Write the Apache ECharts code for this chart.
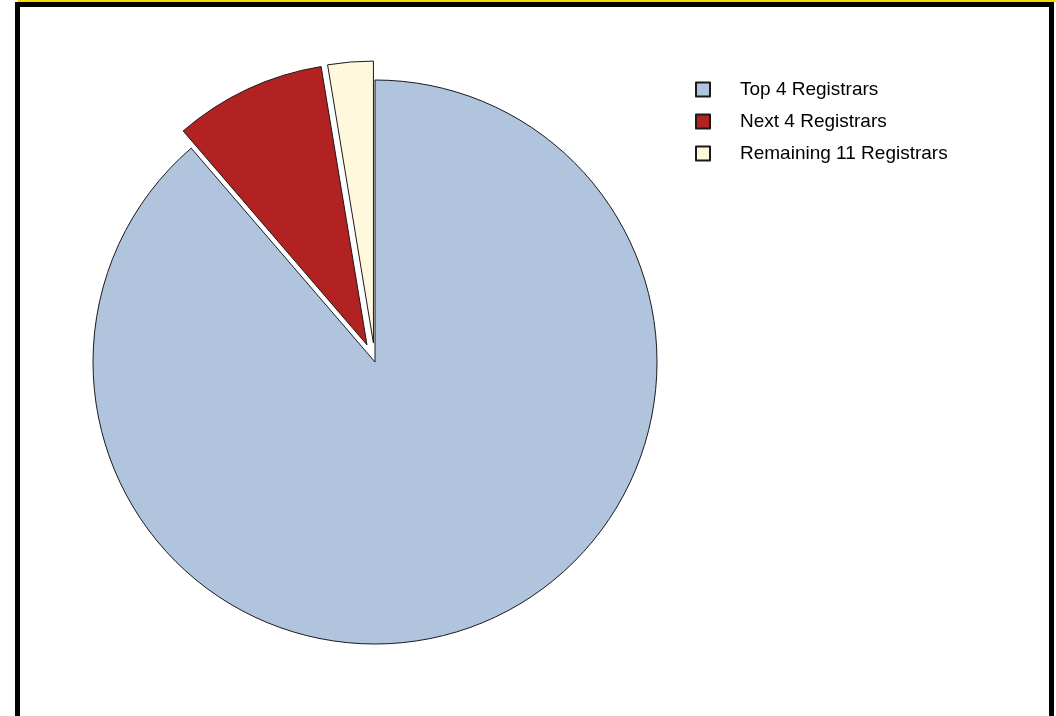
<!DOCTYPE html>
<html>
<head>
<meta charset="utf-8">
<script src="https://cdn.jsdelivr.net/npm/echarts@6/dist/echarts.min.js"></script>
<style>
html,body{margin:0;padding:0;background:#fff;}
#c{width:1056px;height:716px;}
</style>
</head>
<body>
<div id="c"></div>
<script>
const categories = ['Top 4 Registrars', 'Next 4 Registrars', 'Remaining 11 Registrars'];
const values = [88.7, 8.7, 2.6];
const colors = ['#B0C4DE', '#B22222', '#FFF8DC'];
const exploded = [false, true, true];

const chart = echarts.init(document.getElementById('c'), null, {renderer: 'canvas'});
const data = categories.map((name, i) => ({
  name: name,
  value: values[i],
  selected: exploded[i],
  itemStyle: {color: colors[i]},
  select: {itemStyle: {color: colors[i], borderColor: '#1a1a1a', borderWidth: 1}}
}));

chart.setOption({
  animation: false,
  backgroundColor: '#ffffff',
  legend: {
    orient: 'vertical',
    left: 695,
    top: 80,
    padding: 0,
    itemWidth: 14,
    itemHeight: 14,
    itemGap: 13,
    selectedMode: false,
    icon: 'rect',
    textStyle: {
      fontFamily: 'Liberation Sans, Arial, sans-serif',
      fontSize: 19,
      lineHeight: 18,
      color: '#000',
      padding: [0, 0, 0, 25]
    },
    data: categories
  },
  graphic: [
    {type: 'rect', shape: {x: 18, y: 0, width: 1038, height: 2}, style: {fill: '#FFD700'}, silent: true},
    {type: 'rect', shape: {x: 15, y: 2, width: 1039, height: 5}, style: {fill: '#000'}, silent: true},
    {type: 'rect', shape: {x: 15, y: 2, width: 5, height: 714}, style: {fill: '#000'}, silent: true},
    {type: 'rect', shape: {x: 1049, y: 2, width: 5, height: 714}, style: {fill: '#000'}, silent: true}
  ],
  series: [{
    type: 'pie',
    center: [375, 362],
    radius: 282,
    startAngle: 90,
    clockwise: true,
    selectedMode: 'multiple',
    selectedOffset: 19,
    avoidLabelOverlap: false,
    label: {show: false},
    labelLine: {show: false},
    emphasis: {disabled: true},
    itemStyle: {borderColor: '#1a1a1a', borderWidth: 1},
    data: data
  }]
});
</script>
</body>
</html>
